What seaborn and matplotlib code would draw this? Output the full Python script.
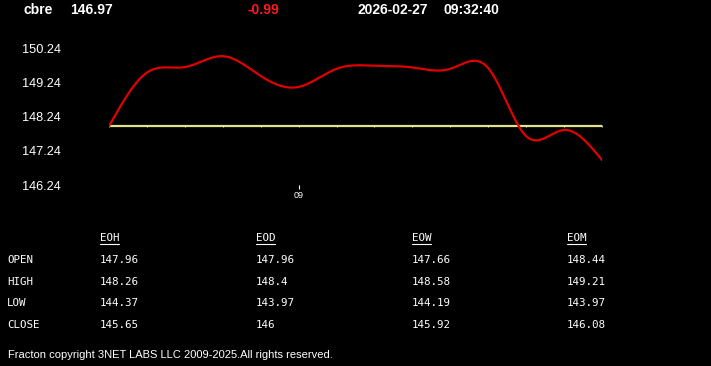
import numpy as np
import pandas as pd
import matplotlib
matplotlib.use("Agg")
import matplotlib.pyplot as plt
from matplotlib.lines import Line2D
import seaborn as sns

# ---------------- data ----------------
symbol = "cbre"
last_price = "146.97"
change = "-0.99"
date_str = "2026-02-27"
time_str = "09:32:40"

prices = [147.96, 149.53, 149.69, 150.01, 149.43, 149.11, 149.64,
          149.73, 149.68, 149.64, 149.66, 147.67, 147.85, 146.97]
prev_close = 147.96
y_ticks = [146.24, 147.24, 148.24, 149.24, 150.24]
x_tick_pos = [5]
x_tick_labels = ["09"]

table_cols = ["EOH", "EOD", "EOW", "EOM"]
table_rows = ["OPEN", "HIGH", "LOW", "CLOSE"]
open_vals = ["147.96", "147.96", "147.66", "148.44"]
high_vals = ["148.26", "148.4", "148.58", "149.21"]
low_vals = ["144.37", "143.97", "144.19", "143.97"]
close_vals = ["145.65", "146", "145.92", "146.08"]
footer = "Fracton copyright 3NET LABS LLC 2009-2025.All rights reserved."


def natural_spline(x, y, xs):
    x = np.asarray(x, float); y = np.asarray(y, float)
    n = len(x)
    h = np.diff(x)
    A = np.zeros((n, n)); b = np.zeros(n)
    A[0, 0] = 1; A[-1, -1] = 1
    for i in range(1, n - 1):
        A[i, i - 1] = h[i - 1]
        A[i, i] = 2 * (h[i - 1] + h[i])
        A[i, i + 1] = h[i]
        b[i] = 6 * ((y[i + 1] - y[i]) / h[i] - (y[i] - y[i - 1]) / h[i - 1])
    M = np.linalg.solve(A, b)
    out = np.empty_like(xs)
    for k, t in enumerate(xs):
        i = min(max(np.searchsorted(x, t) - 1, 0), n - 2)
        a = x[i + 1] - t; c = t - x[i]
        out[k] = (M[i] * a**3 + M[i + 1] * c**3) / (6 * h[i]) + \
                 (y[i] / h[i] - M[i] * h[i] / 6) * a + \
                 (y[i + 1] / h[i] - M[i + 1] * h[i] / 6) * c
    return out


idx = np.arange(len(prices))
xs = np.linspace(0, len(prices) - 1, 600)
smooth = pd.DataFrame({"t": xs, "price": natural_spline(idx, prices, xs)})
base = pd.DataFrame({"t": idx, "price": [prev_close] * len(idx)})

sns.set_theme(style="dark")
plt.rcParams["font.family"] = ["Liberation Sans", "DejaVu Sans"]

W, H = 711, 366
fig = plt.figure(figsize=(W / 100, H / 100), dpi=100, facecolor="black")
ax = fig.add_axes([109 / W, (H - 185) / H, 493 / W, 136.7 / H])
ax.set_facecolor("black")

sns.lineplot(data=base, x="t", y="price", ax=ax, color="#dfe38a", lw=1.6,
             marker="|", markersize=2, markeredgecolor="#eef0c0", markeredgewidth=0.6)
sns.lineplot(data=smooth, x="t", y="price", ax=ax, color="#e00000", lw=1.6)

ax.set_xlim(0, len(prices) - 1)
ax.set_ylim(146.24, 150.24)
for s in ax.spines.values():
    s.set_visible(False)
ax.grid(False)
ax.set_xlabel(""); ax.set_ylabel("")
ax.set_yticks(y_ticks)
ax.set_yticklabels([f"{v:.2f}" for v in y_ticks])
ax.tick_params(axis="y", length=0, pad=34.5, labelcolor="white", labelsize=9.2)
ax.set_xticks(x_tick_pos)
ax.set_xticklabels(x_tick_labels)
ax.tick_params(axis="x", length=3, width=0.8, color="white", pad=1.5,
               labelcolor="white", labelsize=6.5, bottom=True)


def ftext(x, y, s, **kw):
    fig.text(x / W, 1 - y / H, s, **kw)


hdr = dict(color="white", fontsize=10, fontweight="bold", va="center")
ftext(23, 10, symbol, **hdr)
ftext(70, 10, last_price, **hdr)
ftext(247, 10, change, **{**hdr, "color": "#ff1a1a"})
ftext(358, 10, date_str, **hdr)
ftext(444, 10, time_str, **hdr)

mono = dict(color="white", fontsize=7.8, family="DejaVu Sans Mono", va="center")
col_x = [100, 256, 412, 567]
for cx, name in zip(col_x, table_cols):
    ftext(cx, 238, name, **mono)
    fig.add_artist(Line2D([cx / W, (cx + 19) / W], [1 - 244 / H, 1 - 244 / H],
                          color="white", lw=0.8))
row_y = [260, 282, 303, 325]
rows = [open_vals, high_vals, low_vals, close_vals]
for ry, label, vals in zip(row_y, table_rows, rows):
    ftext(7, ry, label, **mono)
    for cx, v in zip(col_x, vals):
        ftext(cx, ry, v, **mono)

ftext(8, 355, footer, color="white", fontsize=8, va="center")

fig.savefig("out.png", dpi=100, facecolor="black")
